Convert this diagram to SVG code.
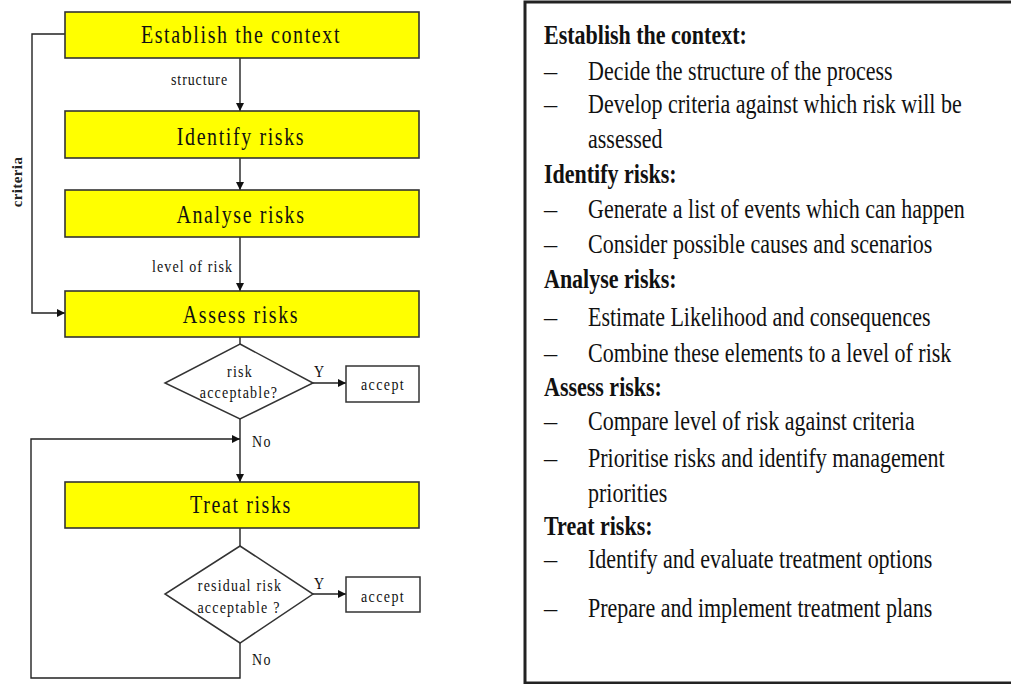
<svg xmlns="http://www.w3.org/2000/svg" width="1011" height="684" viewBox="0 0 1011 684">
<style>
.box{fill:#ffff00;stroke:#333;stroke-width:1.6}
.plain{fill:#fff;stroke:#333;stroke-width:1.5}
.dia{fill:#fff;stroke:#333;stroke-width:1.5}
.bt{font-family:"Liberation Serif",serif;font-size:20px;letter-spacing:1.6px;fill:#111;text-anchor:middle}
.sm{font-family:"Liberation Serif",serif;font-size:14px;letter-spacing:1.1px;fill:#111}
.smc{font-family:"Liberation Serif",serif;font-size:14px;letter-spacing:1.2px;fill:#111;text-anchor:middle}
.crit{font-family:"Liberation Serif",serif;font-size:15px;font-weight:bold;fill:#222;text-anchor:middle;letter-spacing:0.4px}
.line{fill:none;stroke:#222;stroke-width:1.4}
.rt{font-family:"Liberation Serif",serif;font-size:22px;fill:#111}
.rh{font-family:"Liberation Serif",serif;font-size:22px;font-weight:bold;fill:#111}
</style>
<defs>
<marker id="arr" viewBox="0 0 10 10" refX="10" refY="5" markerWidth="8" markerHeight="8" markerUnits="userSpaceOnUse" orient="auto">
<path d="M0,0 L10,5 L0,10 Z" fill="#111"/>
</marker>
</defs>
<rect width="1011" height="684" fill="#fff"/>

<g id="connectors">
<line class="line" x1="240" y1="58" x2="240" y2="111" marker-end="url(#arr)"/>
<line class="line" x1="240" y1="158" x2="240" y2="190" marker-end="url(#arr)"/>
<line class="line" x1="240" y1="237" x2="240" y2="291" marker-end="url(#arr)"/>
<line class="line" x1="240" y1="337" x2="240" y2="344"/>
<line class="line" x1="313" y1="383" x2="346" y2="383" marker-end="url(#arr)"/>
<line class="line" x1="240" y1="419" x2="240" y2="482" marker-end="url(#arr)"/>
<line class="line" x1="240" y1="528" x2="240" y2="546"/>
<line class="line" x1="313" y1="594" x2="346" y2="594" marker-end="url(#arr)"/>
<polyline class="line" points="240,643 240,678 31,678 31,439 240,439" marker-end="url(#arr)"/>
<polyline class="line" points="65,34 32,34 32,313 65,313" marker-end="url(#arr)"/>
<text class="sm" transform="translate(171 85) scale(1 1.25)" style="letter-spacing:0.9px">structure</text>
<text class="sm" transform="translate(152 272) scale(1 1.25)">level of risk</text>
<text class="crit" transform="translate(22 182) rotate(-90)">criteria</text>
<text class="sm" transform="translate(314 377) scale(1 1.25)">Y</text>
<text class="sm" transform="translate(314 589) scale(1 1.25)">Y</text>
<text class="sm" transform="translate(252 447) scale(1 1.25)" style="letter-spacing:1.5px">No</text>
<text class="sm" transform="translate(252 665) scale(1 1.25)" style="letter-spacing:1.5px">No</text>
</g>

<g id="establish">
<rect class="box" x="65" y="12" width="354" height="46"/>
<text class="bt" transform="translate(241 43) scale(1 1.25)">Establish the context</text>
</g>
<g id="identify">
<rect class="box" x="65" y="111" width="354" height="47"/>
<text class="bt" transform="translate(241 145) scale(1 1.25)">Identify risks</text>
</g>
<g id="analyse">
<rect class="box" x="65" y="190" width="354" height="47"/>
<text class="bt" transform="translate(241 223) scale(1 1.25)">Analyse risks</text>
</g>
<g id="assess">
<rect class="box" x="65" y="291" width="354" height="46"/>
<text class="bt" transform="translate(241 323) scale(1 1.25)">Assess risks</text>
</g>
<g id="decision1">
<polygon class="dia" points="240,344 313,383 240,419 165,383"/>
<text class="smc" transform="translate(240 377) scale(1 1.25)">risk</text>
<text class="smc" transform="translate(239 398) scale(1 1.25)">acceptable?</text>
</g>
<g id="accept1">
<rect class="plain" x="346" y="366" width="73" height="36"/>
<text class="smc" transform="translate(383 390) scale(1 1.25)" style="letter-spacing:1.4px">accept</text>
</g>
<g id="treat">
<rect class="box" x="65" y="482" width="354" height="46"/>
<text class="bt" transform="translate(241 513) scale(1 1.25)">Treat risks</text>
</g>
<g id="decision2">
<polygon class="dia" points="240,546 313,594 240,643 165,594"/>
<text class="smc" transform="translate(240 591) scale(1 1.25)">residual risk</text>
<text class="smc" transform="translate(239 613) scale(1 1.25)">acceptable ?</text>
</g>
<g id="accept2">
<rect class="plain" x="346" y="577" width="74" height="35"/>
<text class="smc" transform="translate(383 602) scale(1 1.25)" style="letter-spacing:1.4px">accept</text>
</g>

<g id="description">
<rect x="525" y="2" width="500" height="681" fill="#fff" stroke="#222" stroke-width="3"/>
<text class="rh" transform="translate(544 44) scale(1 1.25)">Establish the context:</text>
<text class="rt" transform="translate(544 80) scale(1.2 1.25)">–</text>
<text class="rt" transform="translate(588 80) scale(1 1.25)">Decide the structure of the process</text>
<text class="rt" transform="translate(544 113) scale(1.2 1.25)">–</text>
<text class="rt" transform="translate(588 113) scale(1 1.25)">Develop criteria against which risk will be</text>
<text class="rt" transform="translate(588 148) scale(1 1.25)">assessed</text>
<text class="rh" transform="translate(544 183) scale(1 1.25)">Identify risks:</text>
<text class="rt" transform="translate(544 218) scale(1.2 1.25)">–</text>
<text class="rt" transform="translate(588 218) scale(1 1.25)">Generate a list of events which can happen</text>
<text class="rt" transform="translate(544 253) scale(1.2 1.25)">–</text>
<text class="rt" transform="translate(588 253) scale(1 1.25)">Consider possible causes and scenarios</text>
<text class="rh" transform="translate(544 288) scale(1 1.25)">Analyse risks:</text>
<text class="rt" transform="translate(544 326) scale(1.2 1.25)">–</text>
<text class="rt" transform="translate(588 326) scale(1 1.25)">Estimate Likelihood and consequences</text>
<text class="rt" transform="translate(544 362) scale(1.2 1.25)">–</text>
<text class="rt" transform="translate(588 362) scale(1 1.25)">Combine these elements to a level of risk</text>
<text class="rh" transform="translate(544 396) scale(1 1.25)">Assess risks:</text>
<text class="rt" transform="translate(544 430) scale(1.2 1.25)">–</text>
<text class="rt" transform="translate(588 430) scale(1 1.25)">Compare level of risk against criteria</text>
<text class="rt" transform="translate(544 467) scale(1.2 1.25)">–</text>
<text class="rt" transform="translate(588 467) scale(1 1.25)">Prioritise risks and identify management</text>
<text class="rt" transform="translate(588 502) scale(1 1.25)">priorities</text>
<text class="rh" transform="translate(544 535) scale(1 1.25)">Treat risks:</text>
<text class="rt" transform="translate(544 568) scale(1.2 1.25)">–</text>
<text class="rt" transform="translate(588 568) scale(1 1.25)">Identify and evaluate treatment options</text>
<text class="rt" transform="translate(544 617) scale(1.2 1.25)">–</text>
<text class="rt" transform="translate(588 617) scale(1 1.25)">Prepare and implement treatment plans</text>
</g>
</svg>
